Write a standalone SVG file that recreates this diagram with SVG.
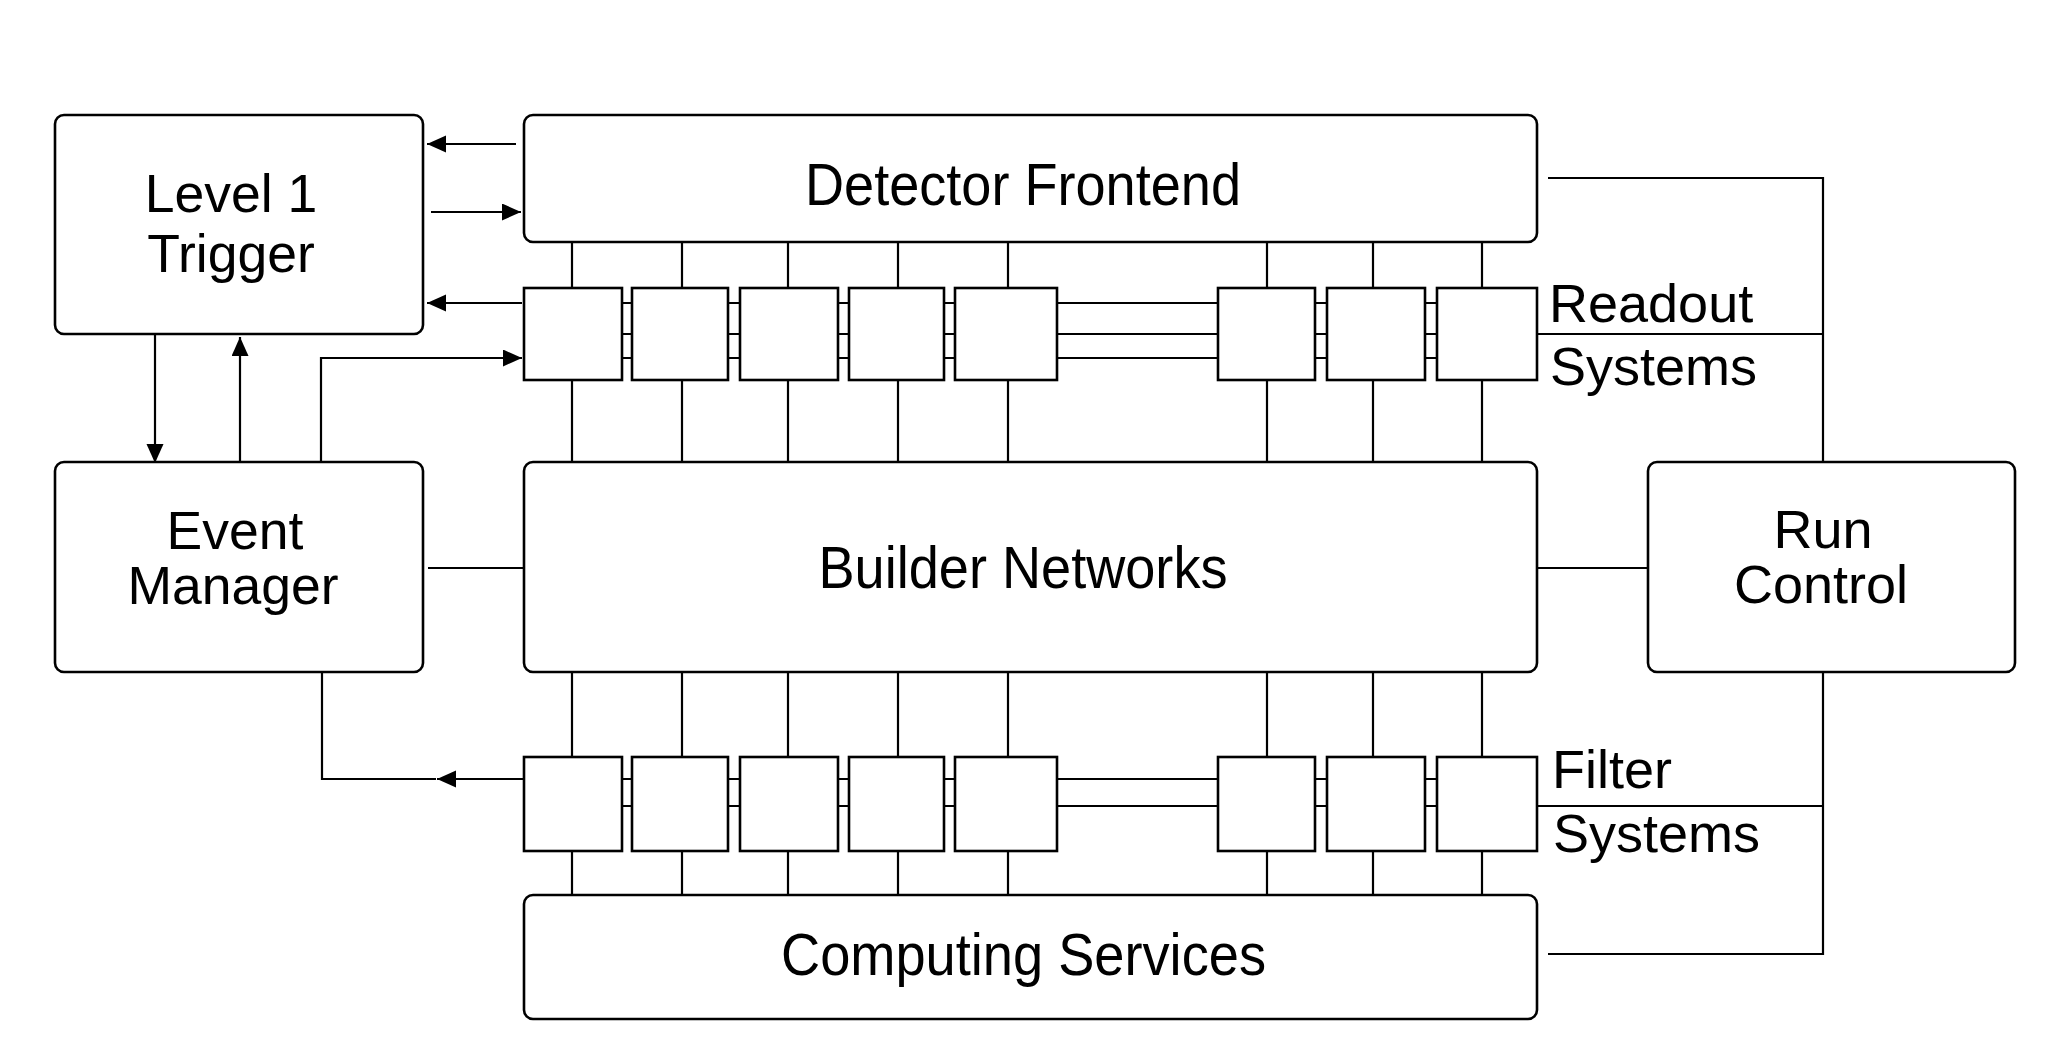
<svg xmlns="http://www.w3.org/2000/svg" width="2070" height="1064" viewBox="0 0 2070 1064">
<style>
.box{fill:#fff;stroke:#000;stroke-width:2.6}
.sb{fill:#fff;stroke:#000;stroke-width:2.6}
.ln{fill:none;stroke:#000;stroke-width:2.2}
.t{font-family:"Liberation Sans",Arial,Helvetica,sans-serif;font-size:53.5px;fill:#000}
.tb{font-family:"Liberation Sans",Arial,Helvetica,sans-serif;font-size:59px;fill:#000}
.ts{font-family:"Liberation Sans",Arial,Helvetica,sans-serif;font-size:54px;fill:#000}
</style>
<defs>
<marker id="ah" markerUnits="userSpaceOnUse" markerWidth="20" markerHeight="18" refX="19" refY="8.5" orient="auto">
<path d="M0,0 L19,8.5 L0,17 z" fill="#000"/>
</marker>
</defs>
<rect width="2070" height="1064" fill="#fff"/>

<g id="connectors">
<path class="ln" d="M572,242V288M682,242V288M788,242V288M898,242V288M1008,242V288M1267,242V288M1373,242V288M1482,242V288"/>
<path class="ln" d="M572,380V462M682,380V462M788,380V462M898,380V462M1008,380V462M1267,380V462M1373,380V462M1482,380V462"/>
<path class="ln" d="M572,672V757M682,672V757M788,672V757M898,672V757M1008,672V757M1267,672V757M1373,672V757M1482,672V757"/>
<path class="ln" d="M572,851V895M682,851V895M788,851V895M898,851V895M1008,851V895M1267,851V895M1373,851V895M1482,851V895"/>
<path class="ln" d="M622,303H632M728,303H740M838,303H849M944,303H955M1057,303H1218M1315,303H1327M1425,303H1437"/>
<path class="ln" d="M622,334H632M728,334H740M838,334H849M944,334H955M1057,334H1218M1315,334H1327M1425,334H1437"/>
<path class="ln" d="M622,358H632M728,358H740M838,358H849M944,358H955M1057,358H1218M1315,358H1327M1425,358H1437"/>
<path class="ln" d="M622,779H632M728,779H740M838,779H849M944,779H955M1057,779H1218M1315,779H1327M1425,779H1437"/>
<path class="ln" d="M622,806H632M728,806H740M838,806H849M944,806H955M1057,806H1218M1315,806H1327M1425,806H1437"/>
<path class="ln" d="M516,144H427" marker-end="url(#ah)"/>
<path class="ln" d="M431,212H521" marker-end="url(#ah)"/>
<path class="ln" d="M522,303H427" marker-end="url(#ah)"/>
<path class="ln" d="M155,334V463" marker-end="url(#ah)"/>
<path class="ln" d="M240,462V337" marker-end="url(#ah)"/>
<path class="ln" d="M321,462V358H522" marker-end="url(#ah)"/>
<path class="ln" d="M428,568H524"/>
<path class="ln" d="M523,779H437" marker-end="url(#ah)"/>
<path class="ln" d="M322,672V779H436"/>
<path class="ln" d="M1537,568H1648"/>
<path class="ln" d="M1548,178H1823V462"/>
<path class="ln" d="M1537,334H1823"/>
<path class="ln" d="M1823,672V954H1548"/>
<path class="ln" d="M1537,806H1823"/>
</g>

<g id="level1-trigger">
<rect class="box" x="55" y="115" width="368" height="219" rx="9"/>
<text class="t" x="231" y="212" text-anchor="middle">Level 1</text>
<text class="t" x="231" y="272" text-anchor="middle">Trigger</text>
</g>

<g id="detector-frontend">
<rect class="box" x="524" y="115" width="1013" height="127" rx="9"/>
<text class="tb" x="1023" y="205" text-anchor="middle" textLength="436" lengthAdjust="spacingAndGlyphs">Detector Frontend</text>
</g>

<g id="readout-systems">
<rect class="sb" x="524" y="288" width="98" height="92"/>
<rect class="sb" x="632" y="288" width="96" height="92"/>
<rect class="sb" x="740" y="288" width="98" height="92"/>
<rect class="sb" x="849" y="288" width="95" height="92"/>
<rect class="sb" x="955" y="288" width="102" height="92"/>
<rect class="sb" x="1218" y="288" width="97" height="92"/>
<rect class="sb" x="1327" y="288" width="98" height="92"/>
<rect class="sb" x="1437" y="288" width="100" height="92"/>
<text class="ts" x="1549" y="322">Readout</text>
<text class="ts" x="1550" y="385">Systems</text>
</g>

<g id="event-manager">
<rect class="box" x="55" y="462" width="368" height="210" rx="9"/>
<text class="t" x="235" y="549" text-anchor="middle">Event</text>
<text class="t" x="233" y="604" text-anchor="middle">Manager</text>
</g>

<g id="builder-networks">
<rect class="box" x="524" y="462" width="1013" height="210" rx="9"/>
<text class="tb" x="1023" y="588" text-anchor="middle" textLength="409" lengthAdjust="spacingAndGlyphs">Builder Networks</text>
</g>

<g id="run-control">
<rect class="box" x="1648" y="462" width="367" height="210" rx="9"/>
<text class="ts" x="1823" y="548" text-anchor="middle">Run</text>
<text class="ts" x="1821" y="603" text-anchor="middle">Control</text>
</g>

<g id="filter-systems">
<rect class="sb" x="524" y="757" width="98" height="94"/>
<rect class="sb" x="632" y="757" width="96" height="94"/>
<rect class="sb" x="740" y="757" width="98" height="94"/>
<rect class="sb" x="849" y="757" width="95" height="94"/>
<rect class="sb" x="955" y="757" width="102" height="94"/>
<rect class="sb" x="1218" y="757" width="97" height="94"/>
<rect class="sb" x="1327" y="757" width="98" height="94"/>
<rect class="sb" x="1437" y="757" width="100" height="94"/>
<text class="ts" x="1552" y="788">Filter</text>
<text class="ts" x="1553" y="852">Systems</text>
</g>

<g id="computing-services">
<rect class="box" x="524" y="895" width="1013" height="124" rx="9"/>
<text class="tb" x="1023.5" y="975" text-anchor="middle" textLength="485" lengthAdjust="spacingAndGlyphs">Computing Services</text>
</g>
</svg>
